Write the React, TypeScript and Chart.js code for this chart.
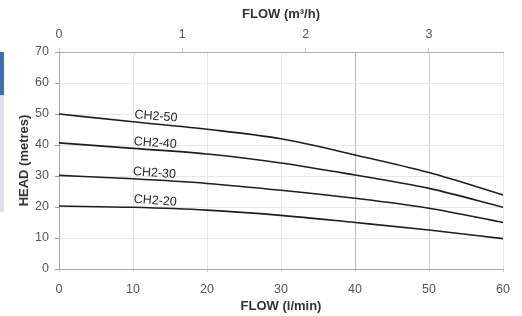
import React, { useEffect, useRef } from "react";
import { Chart, registerables } from "chart.js";

Chart.register(...registerables);

const flowLpm = [0, 10, 20, 30, 40, 50, 60];
const ch250 = [50, 47.5, 45.1, 42.0, 36.8, 31.1, 23.9];
const ch240 = [40.7, 38.9, 37.1, 34.2, 30.3, 26.0, 19.9];
const ch230 = [30.2, 29.1, 27.6, 25.4, 22.8, 19.6, 15.0];
const ch220 = [20.3, 19.9, 19.0, 17.3, 15.0, 12.6, 9.8];
const seriesNames = ["CH2-50", "CH2-40", "CH2-30", "CH2-20"];
const seriesValues = [ch250, ch240, ch230, ch220];
const labelX = [10.2, 10.1, 10, 10.1];
const labelY = [49.7, 41.1, 31.4, 22.5];

const FONT = "'Liberation Sans', Arial, sans-serif";

const curveLabels = {
  id: "curveLabels",
  afterDatasetsDraw(chart: any) {
    const { ctx, scales } = chart;
    ctx.save();
    ctx.font = `12.5px ${FONT}`;
    ctx.fillStyle = "#2a2a2a";
    ctx.textAlign = "left";
    ctx.textBaseline = "middle";
    seriesNames.forEach((name, i) => {
      const px = scales.x.getPixelForValue(labelX[i]);
      const py = scales.y.getPixelForValue(labelY[i]);
      ctx.save();
      ctx.translate(px, py);
      ctx.rotate((4 * Math.PI) / 180);
      ctx.fillText(name, 0, 0);
      ctx.restore();
    });
    ctx.restore();
  },
};

const vGridColor = (v: number) => {
  if (v === 40) return "#b8b8b8";
  if (v === 50) return "#cfcfcf";
  if (v === 0) return "#9a9a9a";
  return "#e6e6e6";
};

export default function App() {
  const ref = useRef<HTMLCanvasElement>(null);
  useEffect(() => {
    if (!ref.current) return;
    const chart = new Chart(ref.current, {
      type: "line",
      data: {
        datasets: seriesNames.map((name, i) => ({
          label: name,
          data: flowLpm.map((x, j) => ({ x, y: seriesValues[i][j] })),
          borderColor: "#1e1e1e",
          borderWidth: 1.6,
          pointRadius: 0,
          fill: false,
          cubicInterpolationMode: "monotone" as const,
          xAxisID: "x",
          yAxisID: "y",
        })),
      },
      options: {
        animation: false,
        responsive: false,
        maintainAspectRatio: false,
        layout: { padding: { left: 0, right: 19, top: 0, bottom: 0 } },
        plugins: { legend: { display: false }, tooltip: { enabled: false } },
        scales: {
          x: {
            type: "linear",
            position: "bottom",
            min: 0,
            max: 60,
            ticks: { stepSize: 10, color: "#555", font: { family: FONT, size: 12.5 }, padding: 10 },
            grid: {
              color: (c: any) => vGridColor(c.tick ? c.tick.value : -1),
              tickLength: 3,
              tickColor: "#cfcfcf",
            },
            border: { color: "#a8a8a8" },
            title: {
              display: true,
              text: "FLOW (l/min)",
              color: "#333",
              font: { family: FONT, size: 13, weight: "bold" },
              padding: { top: 0, bottom: 2 },
            },
            afterFit: (s: any) => {
              s.height = 47;
            },
          },
          x2: {
            type: "linear",
            position: "top",
            min: 0,
            max: 3.6,
            afterBuildTicks: (s: any) => {
              s.ticks = s.ticks.filter((t: any) => Number.isInteger(t.value));
            },
            ticks: { stepSize: 1, color: "#555", font: { family: FONT, size: 12.5 }, padding: 6 },
            grid: { drawOnChartArea: false, tickLength: 4, tickColor: "#c8c8c8" },
            border: { color: "#b0b0b0" },
            title: {
              display: true,
              text: "FLOW (m³/h)",
              color: "#333",
              font: { family: FONT, size: 13, weight: "bold" },
              padding: { top: 7, bottom: 0 },
            },
            afterFit: (s: any) => {
              s.height = 52;
            },
          },
          y: {
            type: "linear",
            min: 0,
            max: 70,
            ticks: { stepSize: 10, color: "#555", font: { family: FONT, size: 12.5 }, padding: 6 },
            grid: { color: "#e8e8e8", tickLength: 4, tickColor: "#9a9a9a" },
            border: { color: "#a8a8a8" },
            title: {
              display: true,
              text: "HEAD (metres)",
              color: "#333",
              font: { family: FONT, size: 13, weight: "bold" },
              padding: { top: 17, bottom: 0 },
            },
            afterFit: (s: any) => {
              s.width = 59;
            },
          },
        },
      },
      plugins: [curveLabels],
    } as any);
    return () => chart.destroy();
  }, []);

  return (
    <div style={{ position: "absolute", left: 0, top: 0, width: 522, height: 316, background: "#fff" }}>
      <div style={{ position: "absolute", left: 0, top: 52, width: 4, height: 43, background: "#3f70a8" }} />
      <div style={{ position: "absolute", left: 0, top: 95, width: 4, height: 117, background: "#dde0ec" }} />
      <canvas ref={ref} width={522} height={316} style={{ position: "absolute", left: 0, top: 0 }} />
    </div>
  );
}
